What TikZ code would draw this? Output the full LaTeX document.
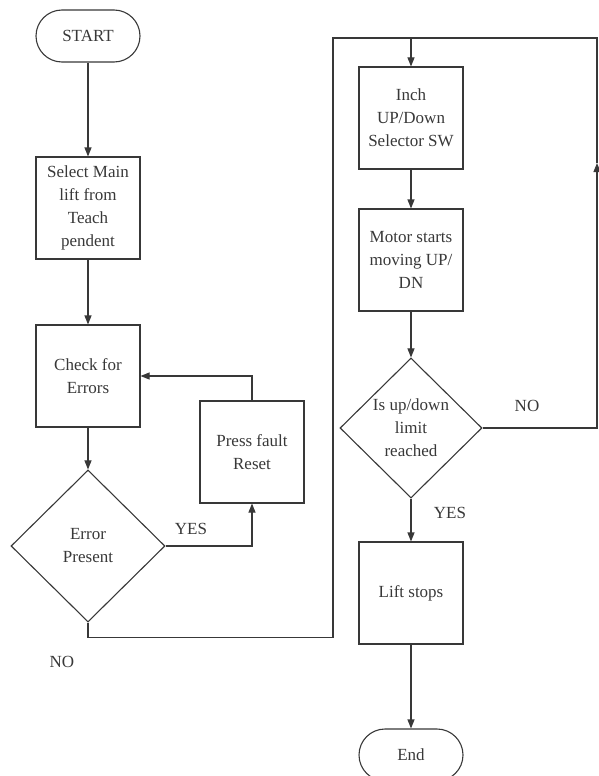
\documentclass[tikz,border=0pt]{standalone}
\usepackage{fontspec}
\setmainfont{Liberation Serif}
\usetikzlibrary{shapes.geometric,arrows.meta}
\begin{document}
\begin{tikzpicture}[x=1pt, y=-1pt, line width=1.1pt, color=black!78,
  >={Triangle[width=7pt,length=9pt]},
  every node/.style={font=\fontsize{17}{23}\selectfont},
  procbox/.style={draw, minimum width=104pt, minimum height=102pt, align=center, inner sep=0pt},
  termbox/.style={draw, rounded corners=26pt, minimum width=104pt, minimum height=52pt},
  decide/.style={draw, diamond, aspect=1, inner sep=0pt, align=center}]
  \useasboundingbox (0,0) rectangle (598,776);
  \node[termbox] (start) at (88,36) {START};
  \node[procbox] (sel) at (88,208) {Select Main\\lift from\\Teach\\pendent};
  \node[procbox] (chk) at (88,376) {Check for\\Errors};
  \node[procbox] (rst) at (252,452) {Press fault\\Reset};
  \node[decide, minimum width=154pt, minimum height=152pt] (err) at (88,546) {Error\\Present};
  \node[procbox] (inch) at (411,118) {Inch\\UP/Down\\Selector SW};
  \node[procbox] (mot) at (411,260) {Motor starts\\moving UP/\\DN};
  \node[decide, minimum width=142pt, minimum height=140pt] (lim) at (411,428) {Is up/down\\limit\\reached};
  \node[procbox] (stop) at (411,593) {Lift stops};
  \node[termbox] (fin) at (411,755) {End};
  \coordinate (c1) at (333,38); \coordinate (c2) at (597,38); \coordinate (c3) at (597,163);
  \draw[->] (start) -- (sel);
  \draw[->] (sel) -- (chk);
  \draw[->] (chk) -- (err);
  \draw[->] (err.east) -| (rst.south);
  \draw[->] (rst.north) |- (chk.east);
  \draw[->] (err.south) -- ++(0,15) -| (c1) -| (inch.north);
  \draw[->] (lim.east) -| (c3);
  \draw (c3) -- (c2) -- (c1);
  \draw[->] (inch) -- (mot);
  \draw[->] (mot) -- (lim);
  \draw[->] (lim) -- (stop);
  \draw[->] (stop) -- (fin);
  \foreach \t/\x/\y [count=\i] in {YES/191/529, NO/527/406, YES/450/513, NO/62/662}
    \node (lab\i) at (\x,\y) {\t};
\end{tikzpicture}
\end{document}
